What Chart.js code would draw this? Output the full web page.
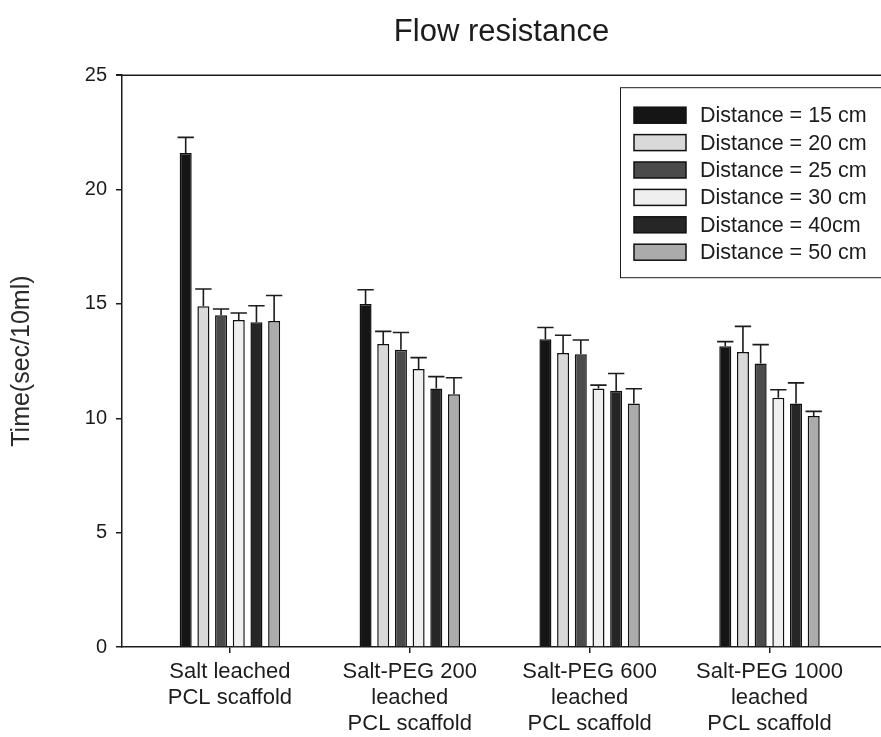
<!DOCTYPE html>
<html>
<head>
<meta charset="utf-8">
<script src="https://cdn.jsdelivr.net/npm/chart.js@4.4.1/dist/chart.umd.min.js"></script>
<style>
  html, body { margin: 0; padding: 0; background: #ffffff; }
  #wrap { width: 881px; height: 737px; }
</style>
</head>
<body>
<div id="wrap"><canvas id="c" width="881" height="737"></canvas></div>
<script>
// ---- data ----
const categories = [
  'Salt leached\nPCL scaffold',
  'Salt-PEG 200\nleached\nPCL scaffold',
  'Salt-PEG 600\nleached\nPCL scaffold',
  'Salt-PEG 1000\nleached\nPCL scaffold'
];
const seriesLabels = ['Distance = 15 cm', 'Distance = 20 cm', 'Distance = 25 cm', 'Distance = 30 cm', 'Distance = 40cm', 'Distance = 50 cm'];
const d15 = [21.6, 15.0, 13.45, 13.15];
const d20 = [14.9, 13.25, 12.85, 12.9];
const d25 = [14.5, 13.0, 12.8, 12.4];
const d30 = [14.3, 12.15, 11.3, 10.9];
const d40 = [14.2, 11.3, 11.2, 10.65];
const d50 = [14.25, 11.05, 10.65, 10.1];
const e15 = [0.68, 0.62, 0.52, 0.2];
const e20 = [0.75, 0.55, 0.78, 1.12];
const e25 = [0.28, 0.75, 0.62, 0.82];
const e30 = [0.3, 0.5, 0.15, 0.35];
const e40 = [0.72, 0.52, 0.76, 0.9];
const e50 = [1.12, 0.72, 0.64, 0.2];
const yTicks = [0, 5, 10, 15, 20, 25];

const seriesValues = [d15, d20, d25, d30, d40, d50];
const seriesErrors = [e15, e20, e25, e30, e40, e50];
const fills = ['#151515', '#d9d9d9', '#4b4b4b', '#efefef', '#262626', '#ababab'];
const FONT = "'Liberation Sans', Arial, sans-serif";
const INK = '#1c1c1c';

const datasets = seriesLabels.map((lab, s) => ({
  label: lab,
  data: seriesValues[s].map((v, i) => ({ x: i + 1, y: v })),
  errors: seriesErrors[s],
  backgroundColor: fills[s],
  borderColor: '#111111',
  borderWidth: 1.5,
  borderSkipped: 'bottom',
  categoryPercentage: 0.59,
  barPercentage: 0.68
}));

const errorBars = {
  id: 'errorBars',
  afterDatasetsDraw(chart) {
    const ctx = chart.ctx;
    const yScale = chart.scales.y;
    ctx.save();
    ctx.strokeStyle = INK;
    ctx.lineWidth = 1.6;
    chart.data.datasets.forEach((ds, di) => {
      const meta = chart.getDatasetMeta(di);
      meta.data.forEach((bar, j) => {
        const v = ds.data[j].y;
        const e = ds.errors[j];
        const yTop = yScale.getPixelForValue(v);
        const yErr = yScale.getPixelForValue(v + e);
        const half = bar.width * 0.68;
        ctx.beginPath();
        ctx.moveTo(bar.x, yTop);
        ctx.lineTo(bar.x, yErr);
        ctx.moveTo(bar.x - half, yErr);
        ctx.lineTo(bar.x + half, yErr);
        ctx.stroke();
      });
    });
    ctx.restore();
  }
};

const frameAndLegend = {
  id: 'frameAndLegend',
  afterDraw(chart) {
    const ctx = chart.ctx;
    const a = chart.chartArea;
    ctx.save();
    // top frame line
    ctx.strokeStyle = INK;
    ctx.lineWidth = 1.5;
    ctx.beginPath();
    ctx.moveTo(a.left - 6, a.top);
    ctx.lineTo(a.right, a.top);
    ctx.stroke();
    // legend box
    const bx = a.right - 261, by = a.top + 12, bw = 270, bh = 190;
    ctx.fillStyle = '#ffffff';
    ctx.fillRect(bx, by, bw, bh);
    ctx.lineWidth = 1;
    ctx.strokeRect(bx + 0.5, by + 0.5, bw, bh);
    ctx.font = '21.5px ' + FONT;
    ctx.textBaseline = 'middle';
    chart.data.datasets.forEach((ds, i) => {
      const cy = by + 28 + i * 27.4;
      ctx.fillStyle = ds.backgroundColor;
      ctx.fillRect(bx + 14, cy - 8, 52, 16);
      ctx.strokeStyle = '#111111';
      ctx.lineWidth = 1.5;
      ctx.strokeRect(bx + 14, cy - 8, 52, 16);
      ctx.fillStyle = INK;
      ctx.fillText(ds.label, bx + 80, cy + 1);
    });
    ctx.restore();
  }
};

new Chart(document.getElementById('c'), {
  type: 'bar',
  data: { datasets },
  options: {
    responsive: false,
    animation: false,
    devicePixelRatio: 1,
    layout: { padding: { left: 0, right: 0, top: 0, bottom: 0 } },
    plugins: {
      legend: { display: false },
      tooltip: { enabled: false },
      title: {
        display: true,
        text: 'Flow resistance',
        fullSize: false,
        color: INK,
        font: { family: FONT, size: 31, weight: 'normal', lineHeight: 1.2 },
        padding: { top: 14, bottom: 24 }
      }
    },
    scales: {
      x: {
        type: 'linear',
        min: 0.4,
        max: 4.62,
        offset: false,
        afterFit(s) { s.height = 90; },
        afterBuildTicks(s) { s.ticks = categories.map((c, i) => ({ value: i + 1 })); },
        ticks: {
          autoSkip: false,
          maxRotation: 0,
          padding: 6,
          color: INK,
          font: { family: FONT, size: 22, lineHeight: 1.18 },
          callback: (v) => { const c = categories[Math.round(v) - 1]; return c ? c.split('\n') : ''; }
        },
        grid: { display: true, offset: false, drawOnChartArea: false, drawTicks: true, tickLength: 6, color: INK, lineWidth: 1.5 },
        border: { display: true, color: INK, width: 1.5 }
      },
      y: {
        min: yTicks[0],
        max: yTicks[yTicks.length - 1],
        afterFit(s) { s.width = 122; },
        afterBuildTicks(s) { s.ticks = yTicks.map(v => ({ value: v })); },
        ticks: {
          padding: 9,
          color: INK,
          font: { family: FONT, size: 20 }
        },
        grid: { display: true, drawOnChartArea: false, drawTicks: true, tickLength: 6, color: INK, lineWidth: 1.5 },
        border: { display: true, color: INK, width: 1.5 },
        title: {
          display: true,
          text: 'Time(sec/10ml)',
          color: '#2a2a2a',
          font: { family: FONT, size: 25, lineHeight: 1.2 },
          padding: { top: 7, bottom: 0 }
        }
      }
    }
  },
  plugins: [errorBars, frameAndLegend]
});
</script>
</body>
</html>
